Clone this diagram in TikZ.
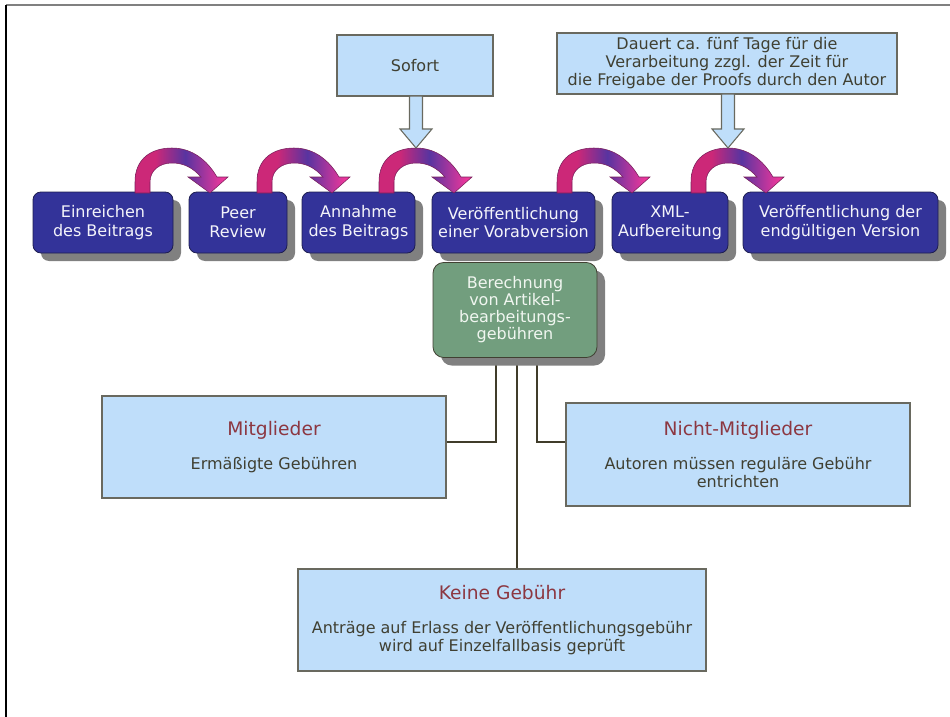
\documentclass[tikz,border=0pt]{standalone}
\usepackage{fontspec}
\setmainfont{DejaVu Sans}
\usetikzlibrary{shadows,backgrounds}

\definecolor{schrittblau}{RGB}{51,51,153}
\definecolor{schrittrand}{RGB}{30,30,80}
\definecolor{schatten}{RGB}{128,128,128}
\definecolor{kastenblau}{RGB}{191,222,250}
\definecolor{kastenrand}{RGB}{105,105,95}
\definecolor{textgrau}{RGB}{64,64,50}
\definecolor{titelrot}{RGB}{140,55,65}
\definecolor{gebuehrgruen}{RGB}{114,158,126}
\definecolor{linienbraun}{RGB}{64,60,42}
\definecolor{bogenmagenta}{RGB}{204,40,120}
\definecolor{bogenlila}{RGB}{88,52,160}
\definecolor{bogenpink}{RGB}{235,55,155}

\pgfdeclarehorizontalshading{bogenverlauf}{100bp}{color(0bp)=(bogenmagenta); color(36bp)=(bogenmagenta); color(52bp)=(bogenlila); color(72bp)=(bogenpink); color(100bp)=(bogenpink)}

\newcommand{\titelschrift}{\fontsize{14}{16}\selectfont\color{titelrot}}

\tikzset{every picture/.style={line width=0.75pt}}
\tikzset{
  schritt/.style={draw=schrittrand, line width=0.6, fill=schrittblau, rounded corners=6pt,
    text={rgb,255:red,244;green,244;blue,250}, align=center, inner sep=2pt,
    font=\fontsize{12}{14}\selectfont, minimum height=45.75pt,
    drop shadow={shadow xshift=6pt, shadow yshift=-6pt, fill=schatten, opacity=1}},
  gebuehr/.style={schritt, fill=gebuehrgruen, draw=textgrau, rounded corners=8pt,
    text={rgb,255:red,240;green,246;blue,240}, font=\fontsize{12}{12.75}\selectfont},
  kasten/.style={draw=kastenrand, line width=0.8, fill=kastenblau, align=center, inner sep=2pt,
    text=textgrau, font=\fontsize{12}{13.5}\selectfont},
  verbinder/.style={draw=linienbraun, line width=1.5pt},
  bogen/.style={draw={rgb,255:red,120;green,30;blue,90}, line width=0.4, shading=bogenverlauf},
  hinweispfeil/.style={draw=kastenrand, line width=0.8, fill=kastenblau}
}

\begin{document}
\begin{tikzpicture}[x=0.75pt,y=0.75pt,yscale=-1,xscale=1]
\useasboundingbox (0,0) rectangle (950,717);

%Straight Lines (frame)
\draw [draw=schatten, line width=1.5] (6,5) -- (950,5) ;
\draw [line width=1.5] (6,5) -- (6,717) ;

%Shape: Rounded Rect (steps)
\node [schritt, minimum width=105pt] (einreichen) at (103,222.5) {Einreichen\\des Beitrags};
\node [schritt, minimum width=73.5pt] (review) at (238,222.5) {Peer\\Review};
\node [schritt, minimum width=84.75pt] (annahme) at (358.5,222.5) {Annahme\\des Beitrags};
\node [schritt, minimum width=122.25pt] (vorab) at (513.5,222.5) {Veröffentlichung\\einer Vorabversion};
\node [schritt, minimum width=87pt] (xml) at (670,222.5) {XML-\\Aufbereitung};
\node [schritt, minimum width=146.25pt] (endversion) at (840.5,222.5) {Veröffentlichung der\\endgültigen Version};

%Curved Arrows
\foreach \x in {135,257,379,557,691} {
  \shadedraw [bogen, shift={(\x,0)}] (0,193) -- (0,182) .. controls (0,158) and (17,148) .. (37,148) .. controls (57,148) and (72,160) .. (82,177) -- (93,177) -- (75,193) -- (53,177) -- (66,177) .. controls (58,168) and (49,163) .. (37,163) .. controls (25,163) and (15,170) .. (15,182) -- (15,193) -- cycle ;
}

%Shape: Rectangle (notes)
\node [kasten, minimum width=117pt, minimum height=45.75pt] (sofort) at (415,65.5) {Sofort};
\node [kasten, minimum width=255pt, minimum height=45.75pt] (dauer) at (727,63.5) {Dauert ca. fünf Tage für die\\Verarbeitung zzgl. der Zeit für\\die Freigabe der Proofs durch den Autor};

%Down Arrows
\foreach \x/\y in {416/96,728/94} {
  \draw [hinweispfeil] (\x-6.5,\y) -- (\x-6.5,129) -- (\x-16,129) -- (\x,148) -- (\x+16,129) -- (\x+6.5,129) -- (\x+6.5,\y) -- cycle ;
}

%Shape: Rounded Rect (fee)
\node [gebuehr, minimum width=123pt, minimum height=71.25pt] (gebuehr) at (515,310) {Berechnung\\von Artikel-\\bearbeitungs-\\gebühren};

% Text Node
\node [kasten, minimum width=258pt, minimum height=76.5pt] (mitglieder) at (274,447) {{\titelschrift Mitglieder}\\[12pt]Ermäßigte Gebühren};
% Text Node
\node [kasten, minimum width=258pt, minimum height=77.25pt] (nichtmitglieder) at (738,454.5) {{\titelschrift Nicht-Mitglieder}\\[12pt]Autoren müssen reguläre Gebühr\\entrichten};
% Text Node
\node [kasten, minimum width=306pt, minimum height=76.5pt] (keine) at (502,620) {{\titelschrift Keine Gebühr}\\[12pt]Anträge auf Erlass der Veröffentlichungsgebühr\\wird auf Einzelfallbasis geprüft};

%Straight Lines (connectors)
\coordinate (mknick) at (496,442);
\coordinate (nknick) at (537,442);
\coordinate (kmitte) at (517,0);
\begin{pgfonlayer}{background}
\draw [verbinder] (gebuehr.south -| mknick) -- (mknick) -- (mknick -| mitglieder.east) ;
\draw [verbinder] (gebuehr.south -| nknick) -- (nknick) -- (nknick -| nichtmitglieder.west) ;
\draw [verbinder] (gebuehr.south -| kmitte) -- (keine.north -| kmitte) ;
\end{pgfonlayer}

\end{tikzpicture}
\end{document}
